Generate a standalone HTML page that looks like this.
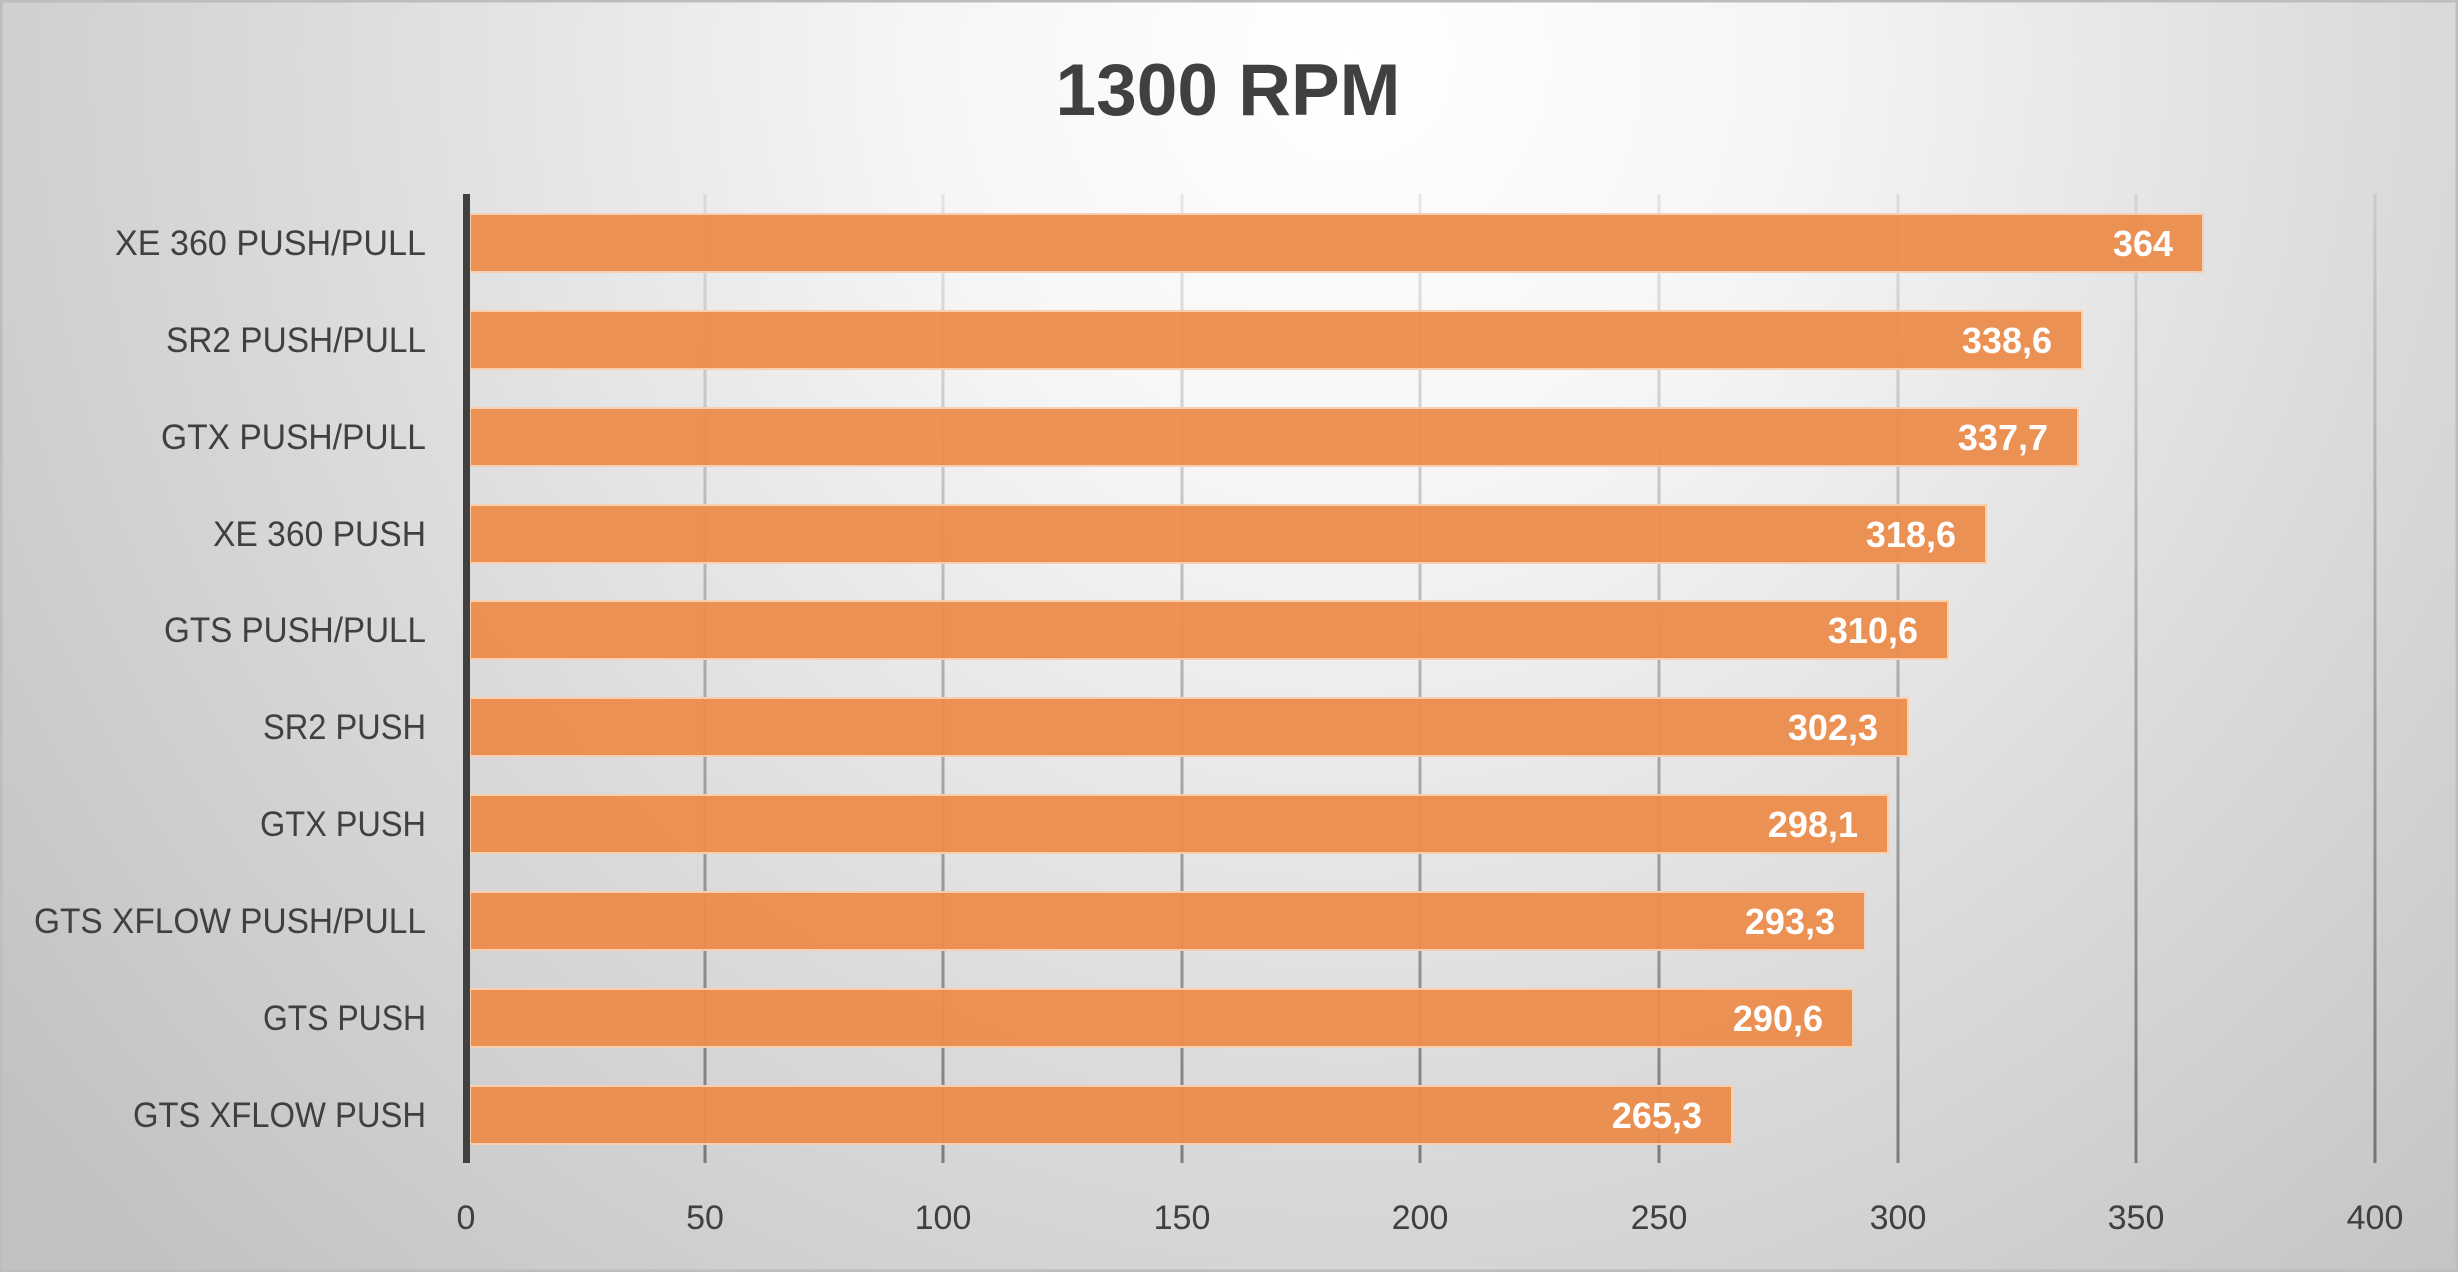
<!DOCTYPE html>
<html><head><meta charset="utf-8"><style>
html,body{margin:0;padding:0;width:2458px;height:1272px;overflow:hidden}
</style></head><body>
<svg width="2458" height="1272" xmlns="http://www.w3.org/2000/svg" font-family="'Liberation Sans', sans-serif">
<defs>
<radialGradient id="bg" cx="1350" cy="60" r="1700" gradientUnits="userSpaceOnUse">
<stop offset="0" stop-color="#ffffff"/><stop offset="0.25" stop-color="#f6f6f6"/><stop offset="0.6" stop-color="#dcdcdc"/><stop offset="1" stop-color="#c2c2c2"/>
</radialGradient>
<linearGradient id="gl" x1="0" y1="194" x2="0" y2="1163" gradientUnits="userSpaceOnUse">
<stop offset="0" stop-color="#000" stop-opacity="0.08"/><stop offset="1" stop-color="#000" stop-opacity="0.42"/>
</linearGradient>
</defs>
<rect x="0" y="0" width="2458" height="1272" fill="url(#bg)"/>
<rect x="1" y="1" width="2456" height="1270" fill="none" stroke="#bdbdbd" stroke-width="3"/>
<text x="1228" y="115" text-anchor="middle" font-size="73" font-weight="bold" fill="#404040">1300 RPM</text>
<g stroke="url(#gl)" stroke-width="3">
<line x1="705" y1="194" x2="705" y2="1163"/><line x1="943" y1="194" x2="943" y2="1163"/>
<line x1="1182" y1="194" x2="1182" y2="1163"/><line x1="1420" y1="194" x2="1420" y2="1163"/>
<line x1="1659" y1="194" x2="1659" y2="1163"/><line x1="1898" y1="194" x2="1898" y2="1163"/>
<line x1="2136" y1="194" x2="2136" y2="1163"/><line x1="2375" y1="194" x2="2375" y2="1163"/>
</g>
<g fill="#ec8c4c" fill-opacity="0.95" stroke="#f9cfb0" stroke-width="2">
<rect x="470" y="214" width="1733" height="58"/>
<rect x="470" y="311" width="1612" height="58"/>
<rect x="470" y="408" width="1608" height="58"/>
<rect x="470" y="505" width="1516" height="58"/>
<rect x="470" y="601" width="1478" height="58"/>
<rect x="470" y="698" width="1438" height="58"/>
<rect x="470" y="795" width="1418" height="58"/>
<rect x="470" y="892" width="1395" height="58"/>
<rect x="470" y="989" width="1383" height="58"/>
<rect x="470" y="1086" width="1262" height="58"/>
</g>
<line x1="466.5" y1="194" x2="466.5" y2="1163" stroke="#404040" stroke-width="7"/>
<g font-size="35" fill="#404040" text-anchor="end" lengthAdjust="spacingAndGlyphs">
<text x="426" y="255" textLength="311" lengthAdjust="spacingAndGlyphs">XE 360 PUSH/PULL</text>
<text x="426" y="352" textLength="260" lengthAdjust="spacingAndGlyphs">SR2 PUSH/PULL</text>
<text x="426" y="449" textLength="265" lengthAdjust="spacingAndGlyphs">GTX PUSH/PULL</text>
<text x="426" y="546" textLength="213" lengthAdjust="spacingAndGlyphs">XE 360 PUSH</text>
<text x="426" y="642" textLength="262" lengthAdjust="spacingAndGlyphs">GTS PUSH/PULL</text>
<text x="426" y="739" textLength="163" lengthAdjust="spacingAndGlyphs">SR2 PUSH</text>
<text x="426" y="836" textLength="166" lengthAdjust="spacingAndGlyphs">GTX PUSH</text>
<text x="426" y="933" textLength="392" lengthAdjust="spacingAndGlyphs">GTS XFLOW PUSH/PULL</text>
<text x="426" y="1030" textLength="163" lengthAdjust="spacingAndGlyphs">GTS PUSH</text>
<text x="426" y="1127" textLength="293" lengthAdjust="spacingAndGlyphs">GTS XFLOW PUSH</text>
</g>
<g font-size="36" font-weight="bold" fill="#ffffff" text-anchor="end">
<text x="2173" y="256">364</text>
<text x="2052" y="353">338,6</text>
<text x="2048" y="450">337,7</text>
<text x="1956" y="547">318,6</text>
<text x="1918" y="643">310,6</text>
<text x="1878" y="740">302,3</text>
<text x="1858" y="837">298,1</text>
<text x="1835" y="934">293,3</text>
<text x="1823" y="1031">290,6</text>
<text x="1702" y="1128">265,3</text>
</g>
<g font-size="34" fill="#404040" text-anchor="middle">
<text x="466" y="1229">0</text><text x="705" y="1229">50</text><text x="943" y="1229">100</text>
<text x="1182" y="1229">150</text><text x="1420" y="1229">200</text><text x="1659" y="1229">250</text>
<text x="1898" y="1229">300</text><text x="2136" y="1229">350</text><text x="2375" y="1229">400</text>
</g>
</svg>
</body></html>
